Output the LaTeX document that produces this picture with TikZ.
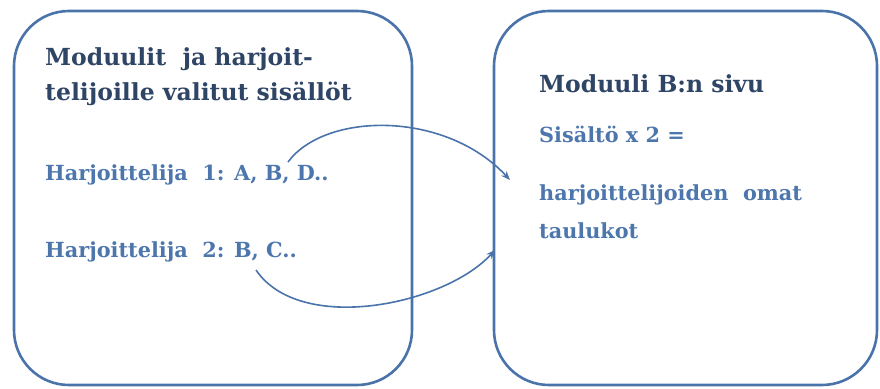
\documentclass[tikz,border=0pt]{standalone}
\usepackage{fontspec}
\setmainfont{DejaVu Serif}
\usetikzlibrary{arrows.meta}
\definecolor{boxblue}{HTML}{4A73A9}
\definecolor{titlecol}{HTML}{2F4566}
\definecolor{itemcol}{HTML}{4C76AC}
\tikzset{
  panel/.style={draw=boxblue, line width=2.6pt, rounded corners=55pt},
  titletext/.style={anchor=base west, inner sep=0pt, text=titlecol, font=\bfseries\fontsize{23.5}{33}\selectfont},
  itemtext/.style={anchor=base west, inner sep=0pt, text=itemcol, font=\bfseries\fontsize{20.8}{24}\selectfont},
  link/.style={draw=boxblue, line width=1.6pt, -{Stealth[length=9pt,width=7pt]}}
}
\begin{document}
\begin{tikzpicture}[x=1pt,y=-1pt]
\useasboundingbox (0,0) rectangle (880,388);
\draw[panel] (14,11) rectangle (412,385);
\draw[panel] (494,11) rectangle (877,385);
\node[titletext] (t1) at (45,65) {Moduulit\ \ ja harjoit-};
\node[titletext] (t2) at (45,100) {telijoille valitut sisällöt};
\node[itemtext] (h1) at (45,180) {Harjoittelija\ \ 1: A, B, D..};
\node[itemtext] (h2) at (45,257) {Harjoittelija\ \ 2: B, C..};
\node[titletext] (r1) at (539,92) {Moduuli B:n sivu};
\node[itemtext] (r2) at (539,142) {Sisältö x 2 =};
\node[itemtext] (r3) at (539,200) {harjoittelijoiden\ \ omat};
\node[itemtext] (r4) at (539,238) {taulukot};
\coordinate (a1s) at (288,162);
\coordinate (a1e) at (510,180);
\coordinate (a2s) at (256,270);
\coordinate (a2e) at (495,250);
\draw[link] (a1s) .. controls (325,112) and (445,110) .. (a1e);
\draw[link] (a2s) .. controls (300,335) and (445,305) .. (a2e);
\end{tikzpicture}
\end{document}
